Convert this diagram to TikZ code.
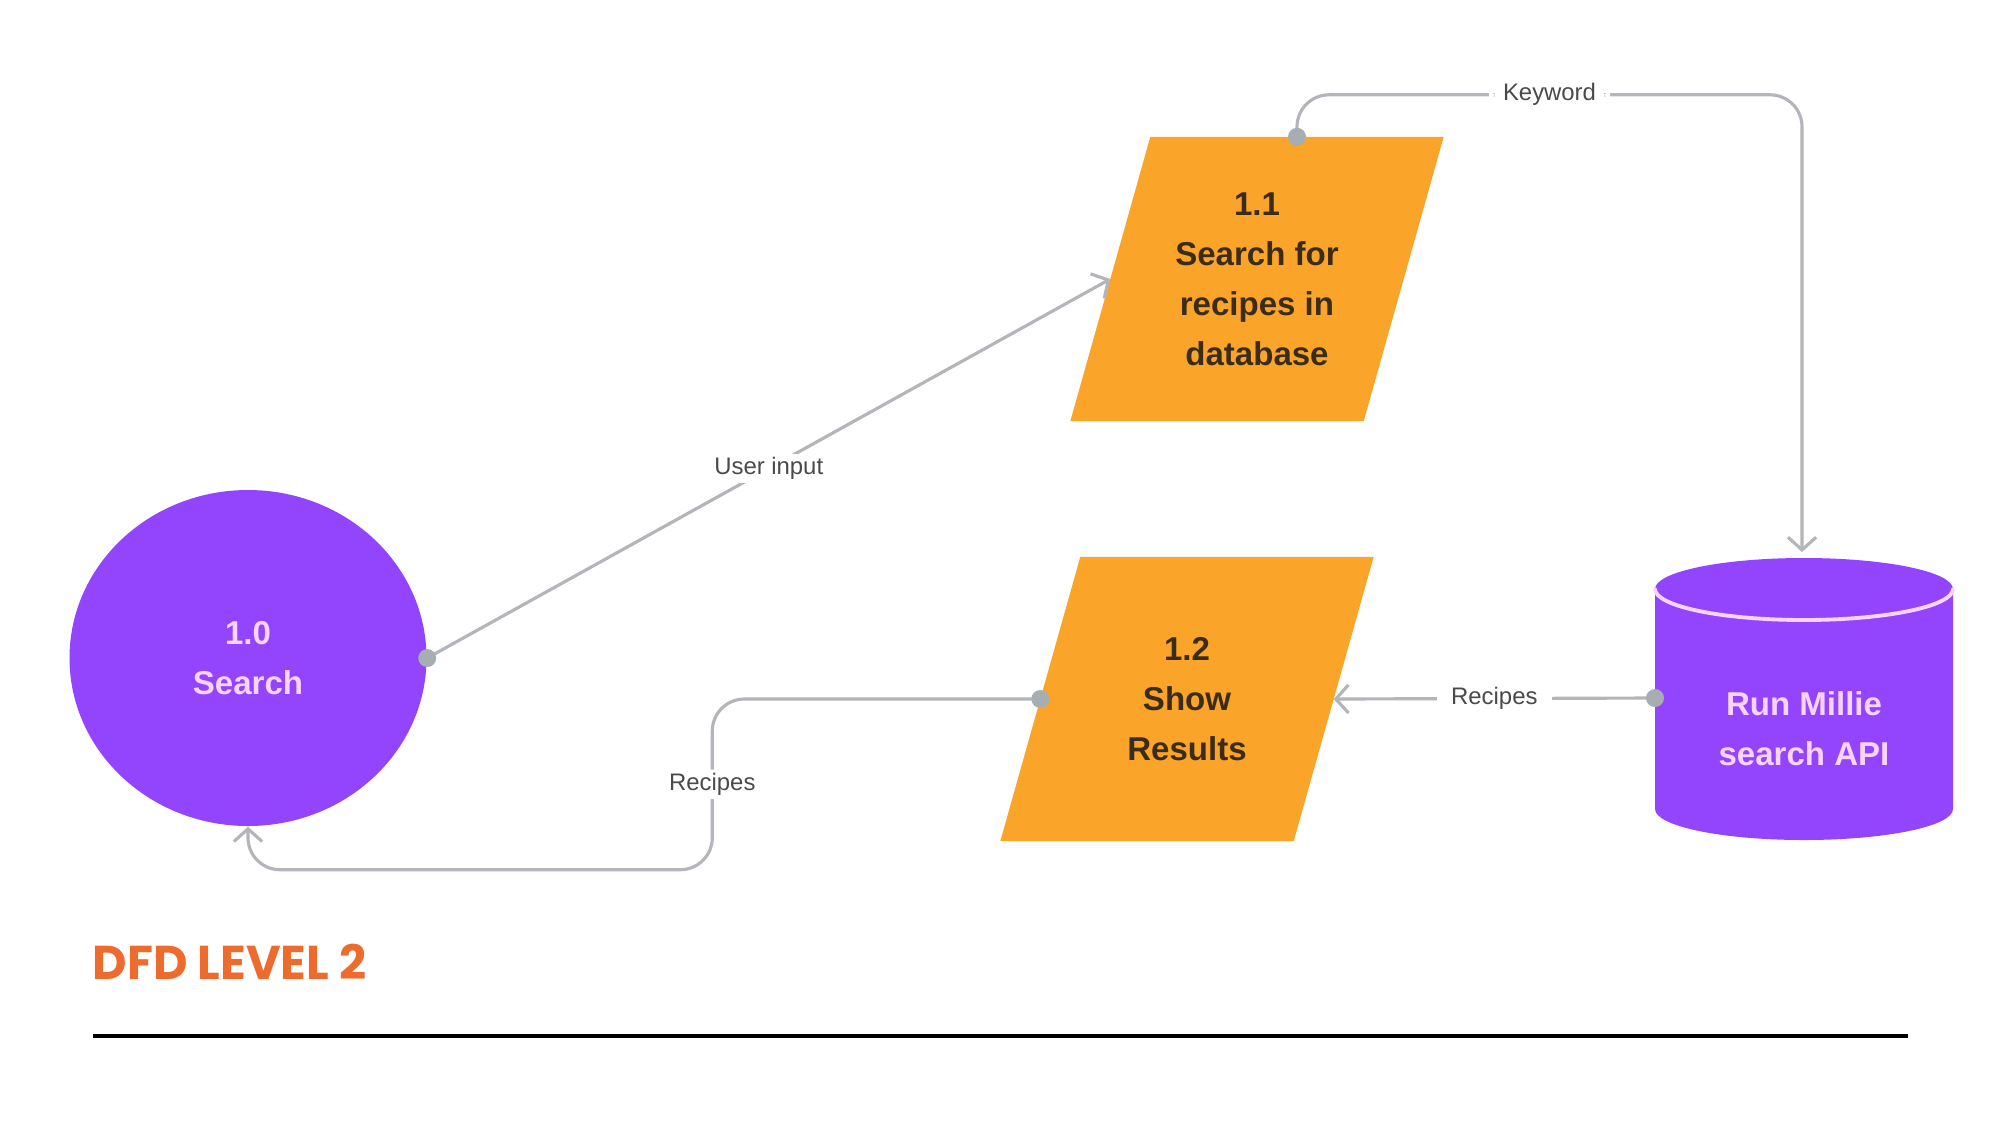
\documentclass[tikz,border=0pt]{standalone}
\usepackage{fontspec}
\setmainfont{Liberation Sans}
\newfontfamily\titlefont{Poppins}
\usetikzlibrary{arrows.meta,shapes.geometric,calc,backgrounds}
\definecolor{millie}{HTML}{9245FD}
\definecolor{milliepale}{HTML}{F6D4FF}
\definecolor{procfill}{HTML}{FBA42A}
\definecolor{proctext}{HTML}{3A2C18}
\definecolor{flowgray}{HTML}{B3B5BA}
\definecolor{dotgray}{HTML}{A7AEB3}
\definecolor{labelgray}{HTML}{4A4A4A}
\definecolor{titleorange}{HTML}{EC6B2D}
\tikzset{
    process/.style={rectangle,text=proctext,align=center,
        minimum width=2.92cm,minimum height=2.83cm,inner sep=0pt,
        font=\fontsize{9.4pt}{14.2pt}\selectfont\bfseries},
    flow/.style={draw=flowgray,line width=0.9pt,-{Straight Barb[length=3.6pt,width=8pt]}},
    flowlabel/.style={fill=white,text=labelgray,inner xsep=0.14cm,inner ysep=1pt,
        font=\fontsize{6.8pt}{8pt}\selectfont},
}
\begin{document}
\begin{tikzpicture}[line cap=round,line join=round,
    dot/.style={fill=dotgray},
    entity/.style={fill=millie,text=milliepale,align=center,
        font=\fontsize{9.4pt}{14.2pt}\selectfont\bfseries}]
    \useasboundingbox (0,0) rectangle (20,-11.25);
    % processes
    \node[ellipse,entity,minimum width=3.57cm,minimum height=3.36cm,inner sep=0pt]
        (search) at (2.48,-6.58) {1.0\\Search};
    \node[process] (lookup) at (12.57,-2.79) {1.1\\Search for\\recipes in\\database};
    \node[process] (results) at (11.87,-6.99) {1.2\\Show\\Results};
    \begin{scope}[on background layer]
        \foreach \N in {lookup,results}
            \fill[procfill] ($(\N.south west)+(-0.40,0)$) -- ($(\N.north west)+(0.40,0)$)
                -- ($(\N.north east)+(0.40,0)$) -- ($(\N.south east)+(-0.40,0)$) -- cycle;
    \end{scope}
    \coordinate (lookup top) at ($(lookup.north)+(0.40,0)$);
    % data store
    \fill[millie] (16.55,-5.89) -- (16.55,-8.09)
        arc[start angle=180,end angle=360,x radius=1.49,y radius=0.31] -- (19.53,-5.89)
        arc[start angle=0,end angle=180,x radius=1.49,y radius=0.31] -- cycle;
    \draw[milliepale,line width=1.1pt] (16.55,-5.89)
        arc[start angle=180,end angle=360,x radius=1.49,y radius=0.31];
    \node[entity,fill=none] (api) at (18.04,-7.29) {Run Millie\\search API};
    \coordinate (api top) at (18.02,-5.52);
    \coordinate (api west) at (16.55,-6.98);
    % flows
    \draw[flow] (search.east) -- node[flowlabel] {User input} (lookup.west);
    \draw[flow,rounded corners=0.32cm] (lookup top) -- ++(0,0.42)
        -| node[flowlabel,pos=0.25] {Keyword} (api top);
    \draw[flow] (api west) -- node[flowlabel] {Recipes} (results.east);
    \draw[flow,rounded corners=0.32cm] (results.west) -- ++(-3.28,0)
        |- node[flowlabel,pos=0.25] {Recipes} ($(search.south)+(0,-0.43)$) -- (search.south);
    \foreach \P in {search.east,lookup top,api west,results.west}
        \fill[dot] (\P) circle[radius=0.09];
    % title
    \node[anchor=base west,inner sep=0pt,text=titleorange,
        font=\titlefont\fontsize{13.5pt}{16pt}\selectfont\bfseries]
        (title) at (0.92,-9.79) {DFD LEVEL 2};
    \draw[line width=1.1pt,line cap=butt] (0.93,-10.36) -- (19.08,-10.36);
\end{tikzpicture}
\end{document}
